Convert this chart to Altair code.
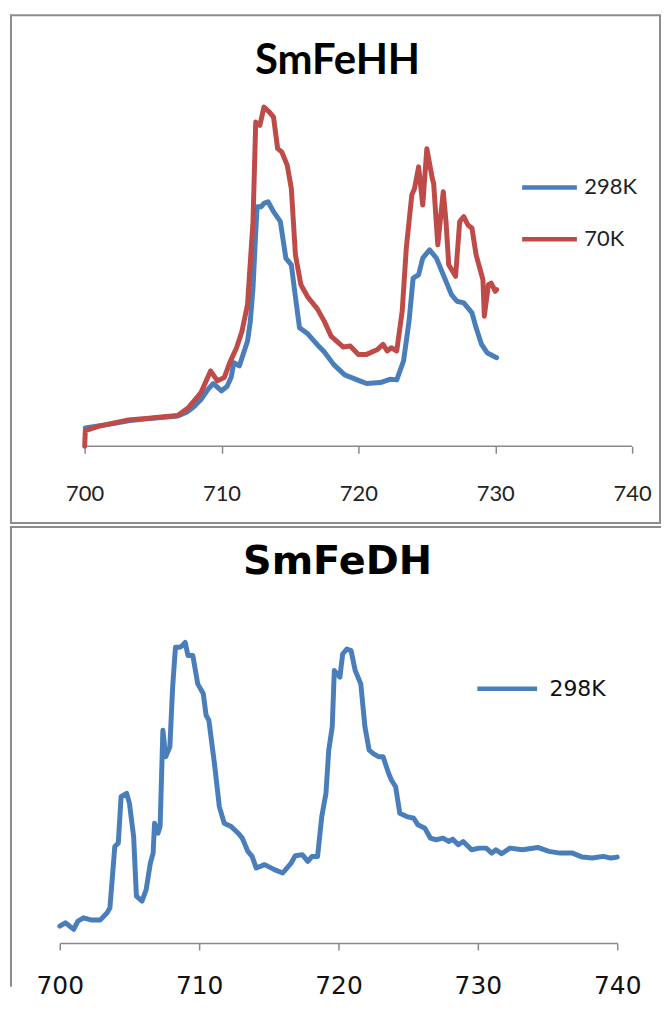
import altair as alt
import pandas as pd

# ---------------- data ----------------
# SmFeHH, 298K
HH_298_WL = [700.05, 701.0, 702.0, 703.2, 704.5, 705.6, 706.8, 707.5, 708.0, 708.5,
             709.0, 709.4, 710.0, 710.4, 710.7, 710.9, 711.3, 711.9, 712.1, 712.3,
             712.5, 712.6, 712.9, 713.1, 713.4, 713.8, 714.3, 714.7, 715.1, 715.4,
             715.7, 716.3, 717.0, 717.5, 718.2, 719.0, 720.1, 720.6, 721.6, 722.3,
             722.8, 723.3, 723.7, 724.0, 724.4, 724.7, 725.2, 725.7, 726.3, 726.8,
             727.2, 727.7, 728.3, 728.6, 729.0, 729.4, 730.1]
HH_298_I = [18.3, 20.5, 22.5, 25.7, 27.5, 29.0, 30.5, 34.5, 40.0, 47.0,
            57.0, 63.0, 55.7, 60.0, 69.0, 84.0, 80.7, 105.7, 125.0, 159.0,
            215.0, 240.7, 240.7, 244.0, 245.7, 235.7, 225.7, 189.0, 182.3, 150.0,
            119.0, 113.0, 102.0, 95.0, 82.0, 71.7, 65.7, 63.0, 64.0, 67.3,
            66.7, 85.7, 125.7, 169.0, 172.3, 189.0, 197.3, 189.0, 169.0, 152.3,
            145.7, 144.0, 134.0, 119.0, 102.3, 94.0, 89.0]

# SmFeHH, 70K
HH_70_WL = [700.0, 700.05, 701.0, 702.0, 703.2, 704.5, 705.6, 706.8, 707.6, 708.5,
            709.2, 709.7, 710.2, 710.6, 711.1, 711.5, 711.9, 712.3, 712.5, 712.8,
            713.1, 713.5, 713.8, 714.1, 714.4, 714.8, 715.1, 715.4, 715.8, 716.3,
            717.0, 717.5, 718.0, 718.9, 719.4, 720.0, 720.6, 721.4, 721.8, 722.1,
            722.4, 722.8, 723.2, 723.5, 723.9, 724.1, 724.4, 724.7, 725.0, 725.4,
            725.5, 725.8, 726.2, 726.4, 726.6, 727.1, 727.4, 727.7, 728.0, 728.3,
            728.6, 729.1, 729.2, 729.5, 729.7, 730.0, 730.1]
HH_70_I = [0.0, 15.7, 20.0, 23.0, 26.5, 28.0, 29.5, 31.0, 39.0, 54.0,
           75.7, 65.7, 69.0, 84.0, 99.0, 115.7, 142.3, 225.7, 325.7, 322.3,
           340.7, 335.7, 330.7, 299.0, 295.7, 282.3, 259.0, 192.3, 162.3, 150.0,
           138.0, 125.7, 110.7, 99.7, 100.7, 92.3, 92.3, 97.3, 102.3, 95.7,
           99.0, 95.7, 135.7, 199.0, 252.3, 259.0, 280.7, 242.3, 299.0, 269.0,
           264.0, 202.3, 255.7, 225.7, 182.3, 170.7, 225.7, 230.7, 222.3, 219.0,
           192.3, 167.3, 130.7, 162.3, 164.0, 155.7, 157.3]

# SmFeDH, 298K
DH_298_WL = [700.0, 700.4, 701.0, 701.3, 701.7, 702.3, 702.9, 703.4, 703.6, 703.95,
             704.2, 704.4, 704.8, 705.0, 705.3, 705.5, 705.9, 706.2, 706.5, 706.7,
             706.8, 707.05, 707.2, 707.4, 707.6, 707.9, 708.1, 708.3, 708.6, 708.8,
             709.0, 709.2, 709.55, 709.9, 710.3, 710.5, 710.7, 711.1, 711.45, 711.8,
             712.3, 712.8, 713.1, 713.5, 713.8, 714.1, 714.7, 715.4, 716.0, 716.6,
             716.9, 717.4, 717.8, 718.1, 718.5, 718.8, 719.1, 719.3, 719.55, 719.7,
             720.1, 720.3, 720.6, 720.9, 721.2, 721.6, 721.9, 722.2, 722.5, 722.9,
             723.2, 723.6, 723.8, 724.1, 724.4, 724.9, 725.4, 725.7, 726.2, 726.6,
             727.0, 727.5, 727.9, 728.2, 728.6, 728.95, 729.55, 730.1, 730.6, 731.0,
             731.3, 731.7, 732.3, 733.2, 734.3, 735.1, 735.9, 736.8, 737.5, 738.2,
             739.0, 739.55, 740.0]
DH_298_I = [17.0, 20.3, 13.7, 22.0, 25.3, 23.0, 23.0, 30.3, 35.3, 97.0,
            100.3, 147.0, 150.3, 140.3, 107.0, 47.0, 42.0, 53.7, 80.3, 90.3,
            120.3, 110.3, 117.0, 213.7, 187.0, 197.0, 257.0, 297.0, 297.0, 298.7,
            302.0, 288.7, 288.7, 260.3, 250.3, 228.7, 223.7, 180.3, 137.0, 120.3,
            117.0, 110.3, 105.3, 92.0, 87.0, 75.3, 78.7, 73.7, 70.3, 80.3,
            87.7, 88.7, 82.0, 87.0, 87.0, 127.0, 150.3, 193.7, 217.0, 273.7,
            267.0, 290.3, 295.3, 293.7, 273.7, 260.3, 217.0, 193.7, 190.3, 187.0,
            187.0, 170.3, 163.7, 157.0, 130.3, 127.0, 125.3, 118.7, 115.3, 105.3,
            103.7, 105.3, 102.0, 104.3, 98.7, 102.0, 93.7, 95.3, 95.3, 90.3,
            93.7, 89.7, 95.3, 93.7, 96.0, 92.0, 90.3, 90.3, 86.3, 85.3,
            87.0, 85.3, 86.3]

TICKS = [700, 710, 720, 730, 740]
HH_SERIES = ["298K", "70K"]
DH_SERIES = ["298K"]
TITLES = ["SmFeHH", "SmFeDH"]

BLUE = "#4a7ebb"
RED = "#be4b48"
FRAME = "#8c8c8c"
AXIS = "#898989"

top_df = pd.concat([
    pd.DataFrame({"wavelength": HH_298_WL, "intensity": HH_298_I, "series": "298K"}),
    pd.DataFrame({"wavelength": HH_70_WL, "intensity": HH_70_I, "series": "70K"}),
])
bot_df = pd.DataFrame({"wavelength": DH_298_WL, "intensity": DH_298_I, "series": "298K"})
one = pd.DataFrame({"k": [0]})

# the upper chart sits 25 px further right than the lower one: widen its x range on the left
TOP_X = alt.Scale(domain=[700 - 25 / 13.75, 740], nice=False, zero=False)
BOT_X = alt.Scale(domain=[700, 740], nice=False, zero=False)


def hrule(x1, x2, y):
    return alt.Chart(one).mark_rule(stroke=FRAME, strokeWidth=2).encode(
        x=alt.value(x1), x2=alt.value(x2), y=alt.value(y))


def vrule(x, y1, y2):
    return alt.Chart(one).mark_rule(stroke=FRAME, strokeWidth=2).encode(
        x=alt.value(x), y=alt.value(y1), y2=alt.value(y2))


# ---------------- top chart: SmFeHH ----------------
top_lines = alt.Chart(top_df).mark_line(
    strokeWidth=5, strokeCap="round", strokeJoin="round"
).encode(
    x=alt.X("wavelength:Q", scale=TOP_X,
            axis=alt.Axis(values=TICKS, title=None, grid=False, format="d", domain=False,
                          tickColor=AXIS, tickWidth=1.5, tickSize=7,
                          labelFont="Lato", labelFontSize=22, labelColor="#222222",
                          labelPadding=30, labelFlush=False)),
    y=alt.Y("intensity:Q", scale=alt.Scale(domain=[0, 360], nice=False, zero=True), axis=None),
    color=alt.Color("series:N",
                    scale=alt.Scale(domain=HH_SERIES, range=[BLUE, RED]),
                    legend=alt.Legend(title=None, orient="none", legendX=462, legendY=70,
                                      symbolType="stroke", symbolSize=3025,
                                      symbolStrokeWidth=4.5, labelFont="Lato",
                                      labelFontSize=22, labelColor="#222222",
                                      labelOffset=5, rowPadding=11, padding=0)),
)

top_axis_line = alt.Chart(one).mark_rule(stroke=AXIS, strokeWidth=1.5).encode(
    x=alt.datum(700, scale=TOP_X), x2=alt.datum(740), y=alt.value(360)
)

top_title = alt.Chart(one).mark_text(
    font="Lato", fontSize=42, fontWeight="bold", color="black",
    align="center", baseline="alphabetic"
).encode(x=alt.value(279), y=alt.value(-14), text=alt.value(TITLES[0]))

top = alt.layer(
    hrule(-50, 604, -73), hrule(-50, 604, 437), vrule(-49, -73, 437), vrule(603, -73, 437),
    top_axis_line, top_lines, top_title
).properties(width=575, height=360)

# ---------------- bottom chart: SmFeDH ----------------
bot_lines = alt.Chart(bot_df).mark_line(
    strokeWidth=5, strokeCap="round", strokeJoin="round"
).encode(
    x=alt.X("wavelength:Q", scale=BOT_X,
            axis=alt.Axis(values=TICKS, title=None, grid=False, format="d",
                          domainColor=AXIS, domainWidth=1.5,
                          tickColor=AXIS, tickWidth=1.5, tickSize=7,
                          labelFont="DejaVu Sans", labelFontSize=25, labelColor="#111111",
                          labelPadding=24, labelFlush=False)),
    y=alt.Y("intensity:Q", scale=alt.Scale(domain=[0, 320], nice=False, zero=True), axis=None),
    color=alt.Color("series:N",
                    scale=alt.Scale(domain=DH_SERIES, range=[BLUE]),
                    legend=alt.Legend(title=None, orient="none", legendX=417, legendY=32,
                                      symbolType="stroke", symbolSize=3600,
                                      symbolStrokeWidth=4.5, labelFont="DejaVu Sans",
                                      labelFontSize=22, labelColor="#111111",
                                      labelOffset=10, padding=0)),
)

bot_title = alt.Chart(one).mark_text(
    font="DejaVu Sans", fontSize=40, fontWeight="bold", color="black",
    align="center", baseline="alphabetic"
).encode(x=alt.value(279), y=alt.value(-51), text=alt.value(TITLES[1]))

bottom = alt.layer(
    hrule(-50, 604, -98), vrule(-49, -98, 364), bot_lines, bot_title
).properties(width=560, height=320)

chart = alt.vconcat(top, bottom, spacing=0).resolve_scale(
    color="independent", x="independent", y="independent"
).resolve_legend(color="independent").properties(
    padding={"left": 0, "top": 3, "right": 0, "bottom": 0}
).configure(background="white").configure_view(stroke="transparent")

chart.save("out.html", embed_options={"renderer": "svg", "actions": False})
